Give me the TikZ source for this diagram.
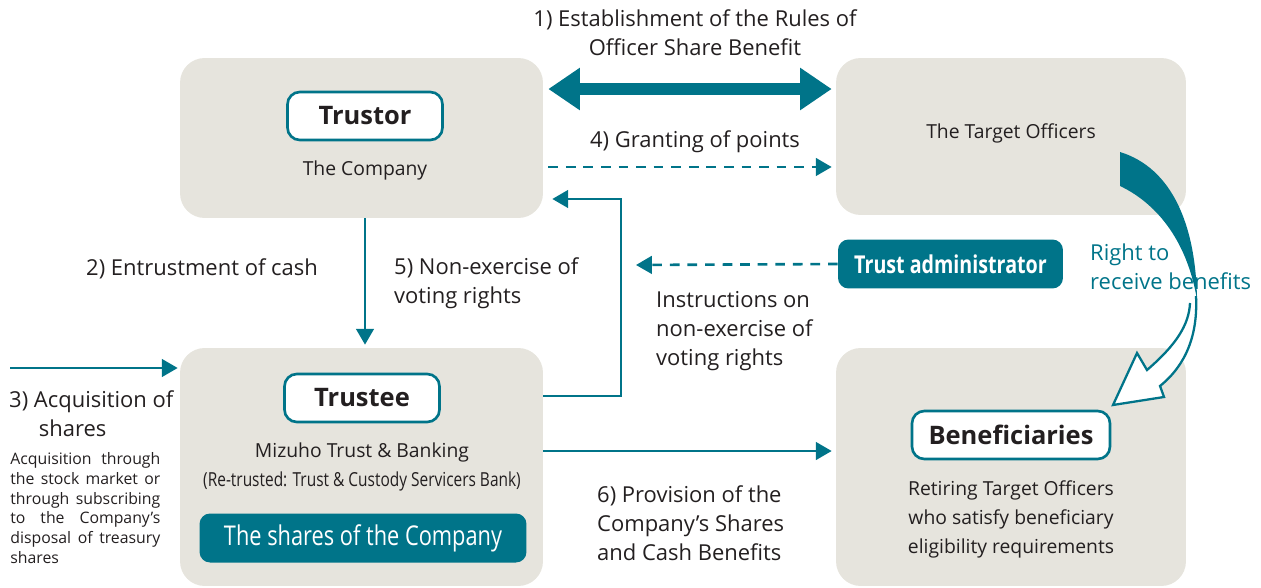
\documentclass[tikz,border=0pt]{standalone}
\usepackage{fontspec}
\setmainfont{Open Sans}
\newfontfamily\narrowfont[FakeStretch=0.8]{Open Sans}
\usetikzlibrary{arrows.meta,calc}
\definecolor{mizuteal}{RGB}{0,116,137}
\definecolor{panelgray}{RGB}{230,228,221}
\definecolor{textdark}{RGB}{35,31,32}
\begin{document}
\begin{tikzpicture}[x=0.02cm,y=-0.02cm,
    panel/.style={fill=panelgray, rounded corners=14pt, inner sep=0pt},
    tag/.style={draw=mizuteal, line width=1.5pt, fill=white, rounded corners=7pt,
      minimum height=0.96cm, font=\bfseries\fontsize{14.5}{17}\selectfont, text=textdark},
    tealbox/.style={fill=mizuteal, rounded corners=6pt, minimum height=0.98cm,
      text=white, font=\narrowfont\fontsize{15}{17}\selectfont},
    body/.style={font=\fontsize{11}{15}\selectfont, text=textdark, align=center},
    label/.style={font=\fontsize{12.5}{16.5}\selectfont, text=textdark},
    arr/.style={draw=mizuteal, line width=1.5pt, -{Triangle[length=9pt,width=10pt]}},
    dasharr/.style={arr, dash pattern=on 5.5pt off 4.5pt}]
  \useasboundingbox (0,0) rectangle (1261,588);
  % panels
  \node[panel, minimum width=7.26cm, minimum height=3.2cm] (trustor) at (361.5,138) {};
  \node[panel, minimum width=7cm, minimum height=3.14cm] (target) at (1011,136.5) {};
  \node[panel, minimum width=7.26cm, minimum height=4.76cm] (trustee) at (361.5,467) {};
  \node[panel, minimum width=7cm, minimum height=4.76cm] (benef) at (1011,467) {};
  % panel contents
  \node[tag, minimum width=3.1cm] (trustortag) at (365,116) {Trustor};
  \node[body] (company) at (365,170) {The Company};
  \node[body] (officers) at (1011,133) {The Target Officers};
  \node[tag, minimum width=3.1cm] (trusteetag) at (362,398) {Trustee};
  \node[body] (mizuho) at (362,452) {Mizuho Trust \& Banking};
  \node[body, font=\narrowfont\fontsize{11}{13}\selectfont] (retrust) at (362,481)
    {(Re-trusted: Trust \& Custody Servicers Bank)};
  \node[tealbox, minimum width=6.54cm, font=\narrowfont\fontsize{15.5}{17}\selectfont] (shares) at (363,538)
    {The shares of the Company};
  \node[tag, minimum width=3.96cm] (beneftag) at (1011,435) {Beneficiaries};
  \node[body, font=\fontsize{11}{16.5}\selectfont] (retiring) at (1011,519)
    {Retiring Target Officers\\who satisfy beneficiary\\eligibility requirements};
  \node[tealbox, minimum width=4.5cm, font=\narrowfont\bfseries\fontsize{14}{17}\selectfont] (admin) at (950.5,264)
    {Trust administrator};
  % right to receive benefits
  \fill[mizuteal] (1120,152) .. controls (1172,168) and (1196,225) .. (1197,300)
    .. controls (1188,245) and (1160,205) .. (1120,186) -- cycle;
  \draw[mizuteal, line width=1.3pt, fill=white, line join=miter]
    (1196,296) .. controls (1198,335) and (1186,365) .. (1160,386)
    -- (1164,397) -- (1113,405) -- (1137,353) -- (1147,370)
    .. controls (1176,345) and (1189,325) .. (1190,303);
  % labels
  \node[label, align=center] (rules) at (695,33)
    {1) Establishment of the Rules of\\Officer Share Benefit};
  \node[label] (granting) at (695,142) {4) Granting of points};
  \node[label] (entrust) at (202,269) {2) Entrustment of cash};
  \node[label, anchor=west, align=left] (nonexercise) at (388,283)
    {5) Non-exercise of\\voting rights};
  \node[label, anchor=west, align=left] (instructions) at (650,331)
    {Instructions on\\non-exercise of\\voting rights};
  \node[label, anchor=west, align=left] (acquisition) at (3,414)
    {3) Acquisition of\\\hspace*{1.35em}shares};
  \node[anchor=north west, text width=3cm, align=justify, inner sep=0pt, text=textdark,
    font=\fontsize{9}{11.3}\selectfont] (acqnote) at (10,452)
    {Acquisition through the stock market or through subscribing to the Company's disposal of treasury shares};
  \node[label, anchor=west, align=left] (provision) at (591,523)
    {6) Provision of the\\Company's Shares\\and Cash Benefits};
  \node[label, anchor=west, align=left, text=mizuteal] (right) at (1084,267)
    {Right to\\receive benefits};
  % connectors
  \coordinate (acqstart) at (10,368);
  \coordinate (turn) at (621,300);
  \coordinate (instrend) at (636,265);
  \draw[line width=7pt, draw=mizuteal, {Triangle[length=18pt,width=23pt]}-{Triangle[length=18pt,width=23pt]},
    shorten <=0.1cm, shorten >=0.08cm]
    ([yshift=0.98cm]trustor.east) -- ([yshift=0.98cm]trustor.east -| target.west);
  \draw[dasharr, shorten <=0.1cm, shorten >=0.08cm]
    ([yshift=-0.58cm]trustor.east) -- ([yshift=-0.58cm]trustor.east -| target.west);
  \draw[arr, shorten >=0.06cm] ([xshift=0.07cm]trustor.south) -- ([xshift=0.07cm]trustee.north);
  \draw[arr] ([yshift=1.42cm]trustee.east) -| (turn) |- ([yshift=-1.22cm,xshift=0.18cm]trustor.east);
  \draw[dasharr] (admin.west) -- (instrend);
  \draw[arr, shorten >=0.04cm] (acqstart) -- (acqstart -| trustee.west);
  \draw[arr, shorten >=0.08cm] ([yshift=0.32cm]trustee.east) -- ([yshift=0.32cm]trustee.east -| benef.west);
\end{tikzpicture}
\end{document}
